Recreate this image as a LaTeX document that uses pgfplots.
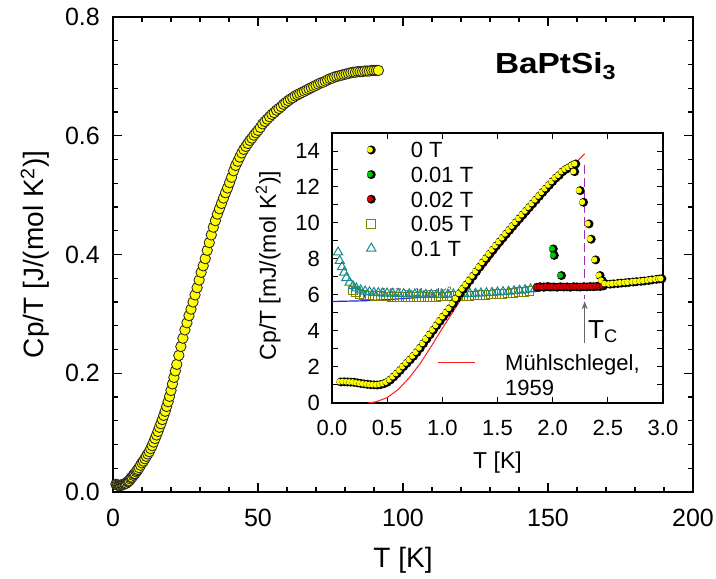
\documentclass[border=0pt]{standalone}
\usepackage{fontspec}
\setmainfont{Liberation Sans}
\usepackage{graphicx}
\usepackage{pgfplots}
\pgfplotsset{compat=1.18}
\usepackage{pgfplotstable}
\usetikzlibrary{arrows.meta}

\definecolor{ballyel}{RGB}{255,255,0}
\definecolor{ballgrn}{RGB}{0,200,0}
\definecolor{ballred}{RGB}{215,0,0}
\definecolor{sqolive}{RGB}{128,128,0}
\definecolor{trteal}{RGB}{20,140,140}
\definecolor{fitblue}{RGB}{30,40,230}
\definecolor{fitred}{RGB}{255,30,30}
\definecolor{tcpurple}{RGB}{165,45,180}

\newcommand{\fs}[1]{\fontsize{#1}{#1}\selectfont}

% sphere-like marker: black disc with a coloured disc shifted to the left
\pgfdeclareplotmark{halfball}{%
  \pgfscope\pgfsetfillcolor{black}%
  \pgfpathcircle{\pgfpointorigin}{\pgfplotmarksize}\pgfusepathqfill\endpgfscope
  \pgfpathcircle{\pgfpoint{-0.3\pgfplotmarksize}{0.05\pgfplotmarksize}}{0.66\pgfplotmarksize}%
  \pgfusepathqfill
}

% Cp/T (J/mol K^2) vs T (K), 0 T
\pgfplotstableread{
T y
1.0 0.013
1.3 0.012
1.6 0.012
2.0 0.011
2.3 0.011
2.6 0.011
3.0 0.012
3.3 0.012
3.6 0.013
4.0 0.014
4.3 0.014
4.6 0.015
5.0 0.017
5.3 0.018
5.6 0.019
6.0 0.022
6.3 0.024
6.6 0.025
7.0 0.028
7.3 0.030
7.6 0.031
8.0 0.034
8.3 0.036
8.6 0.038
9.0 0.041
9.5 0.045
10.0 0.049
10.5 0.052
11.0 0.056
11.5 0.060
12.0 0.064
12.5 0.068
13.0 0.073
13.5 0.078
14.0 0.084
14.5 0.090
15.0 0.096
15.5 0.102
16.0 0.109
16.5 0.115
17.0 0.122
17.5 0.129
18.0 0.136
18.5 0.144
19.0 0.152
19.5 0.161
20.0 0.171
20.5 0.182
21.0 0.193
21.5 0.204
22.0 0.215
22.7 0.230
23.4 0.245
24.1 0.259
24.8 0.273
25.5 0.285
26.2 0.297
26.9 0.308
27.6 0.320
28.3 0.332
29.0 0.344
29.7 0.357
30.4 0.370
31.1 0.381
31.8 0.393
32.5 0.407
33.2 0.420
33.9 0.433
34.6 0.446
35.3 0.457
36.0 0.468
36.7 0.477
37.4 0.486
38.1 0.495
38.8 0.504
39.5 0.512
40.2 0.521
40.9 0.530
41.6 0.541
42.3 0.550
43.0 0.557
43.7 0.564
44.4 0.571
45.1 0.577
45.8 0.582
46.5 0.587
47.2 0.592
47.9 0.596
48.6 0.601
49.3 0.605
50.0 0.609
50.8 0.614
51.6 0.620
52.4 0.624
53.2 0.628
54.0 0.632
54.8 0.636
55.6 0.639
56.4 0.643
57.2 0.646
58.0 0.649
58.8 0.653
59.6 0.656
60.4 0.659
61.2 0.662
62.0 0.664
62.8 0.667
63.6 0.669
64.4 0.671
65.2 0.673
66.0 0.675
66.8 0.677
67.6 0.679
68.4 0.681
69.2 0.683
70.0 0.685
70.8 0.687
71.6 0.689
72.4 0.690
73.2 0.692
74.0 0.694
74.8 0.696
75.6 0.697
76.4 0.699
77.2 0.700
78.0 0.701
78.8 0.702
79.6 0.703
80.4 0.704
81.2 0.705
82.0 0.706
82.8 0.707
83.6 0.707
84.4 0.708
85.2 0.708
86.0 0.708
86.8 0.709
87.6 0.709
88.4 0.709
89.2 0.710
90.0 0.710
90.8 0.710
91.5 0.710
}\mainzero

\begin{document}
\begin{tikzpicture}
\useasboundingbox (-113pt,-87pt) rectangle (603pt,492pt);

\begin{axis}[
    at={(0pt,0pt)}, anchor=south west,
    scale only axis, width=580pt, height=475pt,
    xmin=0, xmax=200, ymin=0, ymax=0.8,
    xtick={0,50,100,150,200}, minor x tick num=4,
    ytick={0,0.2,0.4,0.6,0.8}, minor y tick num=4,
    axis line style={line width=2pt},
    every tick/.style={black, line width=1.3pt},
    major tick length=9pt, minor tick length=5pt,
    tick align=inside,
    /pgf/number format/assume math mode=true,
    ticklabel style={font=\fs{25}},
    yticklabel style={/pgf/number format/fixed, /pgf/number format/fixed zerofill,
        /pgf/number format/precision=1, inner sep=0pt, anchor=east, xshift=-13pt},
    xticklabel style={inner sep=0pt, anchor=north, yshift=-17pt},
    xlabel={T [K]},
    ylabel={Cp/T [J/(mol K\textsuperscript{2})]},
    label style={font=\fs{28}},
    x label style={at={(axis description cs:0.5,-0.143)}, anchor=center},
    y label style={at={(axis description cs:-0.1345,0.5)}, anchor=center},
]
\addplot[only marks, mark=*, mark size=5.2pt,
    mark options={fill=ballyel, draw=black!85, line width=0.85pt}] table[x=T, y=y] {\mainzero};
\node[anchor=base west, inner sep=0pt, font=\fs{29}\bfseries]
    at (axis cs:131.7,0.705) {\scalebox{1.15}[1]{BaPtSi\textsubscript{3}}};
\end{axis}

\begin{axis}[
    at={(219pt,89pt)}, anchor=south west,
    scale only axis, width=331pt, height=270pt,
    xmin=0, xmax=3, ymin=0, ymax=15,
    xtick={0,0.5,1,1.5,2,2.5,3},
    ytick={0,2,4,6,8,10,12,14}, minor ytick={1,3,5,7,9,11,13,15},
    axis background/.style={fill=white},
    axis line style={line width=1.2pt},
    every tick/.style={black, line width=1pt},
    major tick length=6pt, minor tick length=6pt,
    tick align=inside,
    /pgf/number format/assume math mode=true,
    ticklabel style={font=\fs{22}},
    xticklabel style={/pgf/number format/fixed, /pgf/number format/fixed zerofill,
        /pgf/number format/precision=1, inner sep=0pt, anchor=north, yshift=-17pt},
    yticklabel style={inner sep=0pt, anchor=east, xshift=-12pt},
    xlabel={T [K]},
    ylabel={Cp/T [mJ/(mol K\textsuperscript{2})]},
    label style={font=\fs{23}},
    x label style={at={(axis description cs:0.5,-0.222)}, anchor=center},
    y label style={at={(axis description cs:-0.193,0.509)}, anchor=center},
    legend style={at={(0.1048,0.9667)}, anchor=north west, draw=none, fill=none,
        inner sep=0pt, outer sep=0pt, font=\fs{22}, row sep=8.6pt, column sep=35pt,
        nodes={inner sep=0pt, text height=16pt, text depth=0pt}},
    legend cell align=left,
    legend image code/.code={\draw[#1] plot coordinates {(0pt,0pt)};},
]
\addlegendimage{only marks, mark=halfball, mark size=4.5pt, fill=ballyel}
\addlegendentry{0 T}
\addlegendimage{only marks, mark=halfball, mark size=4.5pt, fill=ballgrn}
\addlegendentry{0.01 T}
\addlegendimage{only marks, mark=halfball, mark size=4.5pt, fill=ballred}
\addlegendentry{0.02 T}
\addlegendimage{only marks, mark=square, mark size=4.3pt, sqolive, mark options={line width=1pt}}
\addlegendentry{0.05 T}
\addlegendimage{only marks, mark=triangle, mark size=5.3pt, trteal, mark options={line width=1pt}}
\addlegendentry{0.1 T}

\node[anchor=west, inner sep=0pt, font=\fs{11}, text=black!75] at (axis cs:0.27,6.1)
    {γ = 5.57 mJ/molK\textsuperscript{2}};

% 0.05 T
\addplot[forget plot, only marks, mark=square, mark size=4.3pt, sqolive,
    mark options={line width=1pt}] coordinates {
(0.19,6.25) (0.22,6.15) (0.25,6.05) (0.29,6.00) (0.34,5.97) (0.39,5.95) (0.44,5.93)
(0.49,5.92) (0.54,5.90) (0.59,5.90) (0.64,5.89) (0.69,5.89) (0.74,5.88) (0.79,5.88)
(0.84,5.89) (0.89,5.89) (0.94,5.90) (0.99,5.91) (1.04,5.92) (1.09,5.93) (1.14,5.94)
(1.19,5.95) (1.24,5.96) (1.29,5.98) (1.34,5.99) (1.39,6.01) (1.44,6.03) (1.49,6.05)
(1.54,6.07) (1.59,6.09) (1.64,6.12) (1.69,6.15) (1.74,6.18) (1.79,6.21)
};
% 0.1 T
\addplot[forget plot, only marks, mark=triangle, mark size=5.3pt, trteal,
    mark options={line width=1pt}] coordinates {
(0.055,8.37) (0.07,7.90) (0.09,7.55) (0.11,7.25) (0.13,6.95) (0.16,6.70) (0.19,6.50)
(0.22,6.37) (0.26,6.27) (0.30,6.20) (0.34,6.16) (0.38,6.13) (0.42,6.11) (0.46,6.10)
(0.50,6.09) (0.55,6.08) (0.60,6.07) (0.65,6.06) (0.70,6.05) (0.75,6.04) (0.80,6.03)
(0.85,6.02) (0.90,6.02) (0.95,6.02) (1.00,6.02) (1.05,6.03) (1.10,6.04) (1.15,6.05)
(1.20,6.06) (1.25,6.07) (1.30,6.08) (1.35,6.10) (1.40,6.11) (1.45,6.13) (1.50,6.15)
(1.55,6.17) (1.60,6.19) (1.65,6.22) (1.70,6.25) (1.75,6.28) (1.80,6.32) (1.84,6.35)
};
% normal-state fit
\addplot[forget plot, fitblue, line width=1.2pt] coordinates {
(0,5.64) (0.3,5.68) (0.6,5.78) (0.95,5.93)
};
% 0.01 T
\addplot[forget plot, only marks, mark=halfball, mark size=4.5pt, fill=ballgrn] coordinates {
(1.88,6.45) (1.92,6.45) (1.96,6.46) (2.006,8.56) (2.015,8.20) (2.08,7.08)
};
% 0.02 T
\addplot[forget plot, only marks, mark=halfball, mark size=4.5pt, fill=ballred] coordinates {
(1.86,6.42) (1.89,6.45) (1.92,6.43) (1.95,6.46) (1.98,6.44) (2.01,6.45) (2.04,6.43)
(2.07,6.46) (2.10,6.44) (2.13,6.45) (2.16,6.43) (2.19,6.46) (2.22,6.45) (2.25,6.44)
(2.28,6.46) (2.31,6.45) (2.34,6.47) (2.37,6.46) (2.40,6.48) (2.43,6.47) (2.46,6.50)
};
% 0 T
\addplot[forget plot, only marks, mark=halfball, mark size=4.5pt, fill=ballyel] coordinates {
(0.08,1.17) (0.11,1.18) (0.14,1.17) (0.17,1.16) (0.20,1.15) (0.23,1.12) (0.26,1.09)
(0.29,1.06) (0.32,1.04) (0.35,1.02) (0.38,1.01) (0.41,1.00) (0.44,1.02) (0.47,1.07)
(0.50,1.15) (0.53,1.28) (0.56,1.45) (0.59,1.63) (0.62,1.82) (0.65,2.02) (0.68,2.21)
(0.71,2.40) (0.74,2.60) (0.77,2.81) (0.80,3.05) (0.83,3.30) (0.86,3.55) (0.89,3.80)
(0.92,4.05) (0.95,4.30) (0.98,4.55) (1.01,4.79) (1.04,5.02) (1.07,5.25) (1.10,5.52)
(1.13,5.80) (1.16,6.08) (1.19,6.33) (1.22,6.56) (1.25,6.80) (1.28,7.05) (1.31,7.30)
(1.34,7.55) (1.37,7.80) (1.40,8.03) (1.43,8.27) (1.46,8.50) (1.49,8.73) (1.52,8.95)
(1.55,9.17) (1.58,9.39) (1.61,9.60) (1.64,9.82) (1.67,10.03) (1.70,10.24) (1.73,10.45)
(1.76,10.66) (1.79,10.87) (1.82,11.07) (1.85,11.28) (1.88,11.49) (1.91,11.70)
(1.94,11.90) (1.97,12.10) (2.00,12.30) (2.03,12.50) (2.06,12.65) (2.09,12.85)
(2.12,12.98) (2.15,13.08) (2.18,13.20) (2.21,13.28) (2.20,12.85) (2.25,11.80)
(2.28,11.15) (2.33,9.95) (2.35,9.10) (2.39,7.95) (2.43,7.08) (2.45,6.80) (2.48,6.62)
(2.52,6.60) (2.55,6.62) (2.59,6.64) (2.62,6.66) (2.66,6.68) (2.69,6.70) (2.73,6.72)
(2.76,6.74) (2.80,6.76) (2.83,6.78) (2.87,6.81) (2.90,6.84) (2.94,6.87) (2.97,6.89)
(2.99,6.90)
};
% Muehlschlegel 1959
\addplot[forget plot, fitred, line width=1pt] coordinates {
(0.33,0.00) (0.40,0.07) (0.50,0.30) (0.60,0.75) (0.70,1.40) (0.80,2.20) (0.90,3.15)
(1.00,4.15) (1.10,5.10) (1.20,6.05) (1.30,7.00) (1.40,7.70) (1.50,8.50) (1.60,9.25)
(1.70,9.95) (1.80,10.65) (1.90,11.40) (2.00,12.05) (2.10,12.70) (2.20,13.30) (2.29,13.85)
};
\addplot[forget plot, tcpurple, line width=1.4pt, dash pattern=on 9pt off 4pt] coordinates {
(2.29,13.2) (2.29,5.75)
};
\draw[-{Stealth[length=8pt,width=6pt]}, black!60, line width=1pt]
    (axis cs:2.29,3.35) -- (axis cs:2.29,5.65);
\node[anchor=base west, inner sep=0pt, font=\fs{26}] at (axis cs:2.32,3.6) {T\textsubscript{C}};
\draw[fitred, line width=1pt] (axis cs:0.961,2.23) -- (axis cs:1.296,2.23);
\node[anchor=base west, inner sep=0pt, font=\fs{22}] at (axis cs:1.568,1.79) {Mühlschlegel,};
\node[anchor=base west, inner sep=0pt, font=\fs{22}] at (axis cs:1.568,0.39) {1959};
\end{axis}
\end{tikzpicture}
\end{document}
